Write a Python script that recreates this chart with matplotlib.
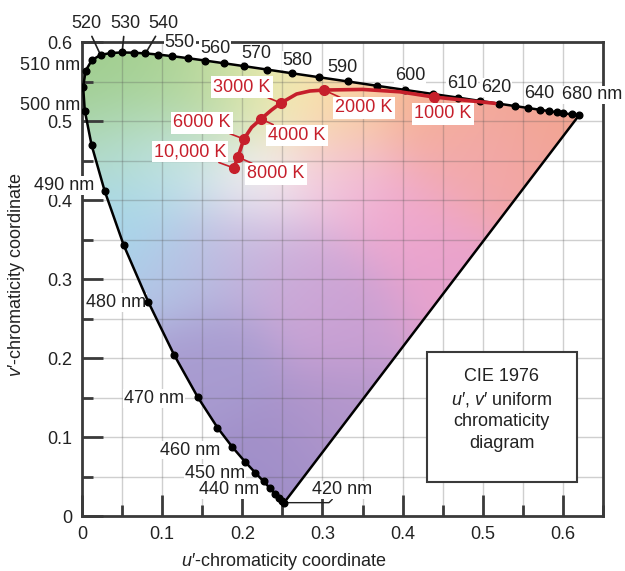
import numpy as np
import matplotlib.pyplot as plt
from matplotlib.patches import Polygon, Rectangle
from matplotlib.colors import to_rgb

plt.rcParams['font.family'] = ['Liberation Sans', 'DejaVu Sans']
plt.rcParams['mathtext.fontset'] = 'custom'
plt.rcParams['mathtext.rm'] = 'Liberation Sans'
plt.rcParams['mathtext.it'] = 'Liberation Sans:italic'
plt.rcParams['font.size'] = 13

# spectral locus (CIE 1976 u', v')
wavelengths = [420, 425, 430, 435, 440, 445, 450, 455, 460, 465, 470, 475,
               480, 485, 490, 495, 500, 505, 510, 515, 520, 525, 530, 535,
               540, 545, 550, 555, 560, 565, 570, 575, 580, 585, 590, 595,
               600, 605, 610, 615, 620, 625, 630, 635, 640, 645, 650, 660, 680]
locus_u = [0.2522, 0.2496, 0.2461, 0.2411, 0.2347, 0.2266, 0.2161, 0.2033,
           0.1877, 0.1690, 0.1441, 0.1147, 0.0828, 0.0521, 0.0282, 0.0119,
           0.0035, 0.0014, 0.0046, 0.0123, 0.0231, 0.0360, 0.0501, 0.0643,
           0.0792, 0.0953, 0.1127, 0.1319, 0.1531, 0.1766, 0.2026, 0.2312,
           0.2623, 0.2960, 0.3315, 0.3681, 0.4035, 0.4379, 0.4692, 0.4968,
           0.5203, 0.5399, 0.5565, 0.5709, 0.5830, 0.5929, 0.6005, 0.6109,
           0.6199]
locus_v = [0.0169, 0.0191, 0.0226, 0.0279, 0.0350, 0.0437, 0.0549, 0.0688,
           0.0871, 0.1119, 0.1510, 0.2044, 0.2708, 0.3427, 0.4117, 0.4698,
           0.5131, 0.5432, 0.5638, 0.5770, 0.5837, 0.5861, 0.5868, 0.5865,
           0.5856, 0.5841, 0.5821, 0.5796, 0.5766, 0.5732, 0.5694, 0.5651,
           0.5604, 0.5554, 0.5501, 0.5446, 0.5393, 0.5342, 0.5296, 0.5254,
           0.5219, 0.5190, 0.5165, 0.5143, 0.5125, 0.5111, 0.5099, 0.5084,
           0.5070]

# blackbody (Planckian) locus
planck_temps = [10000, 8000, 6000, 4000, 3000, 2000, 1000]
planck_labels = ["10,000 K", "8000 K", "6000 K", "4000 K", "3000 K", "2000 K", "1000 K"]
planck_u = [0.1895, 0.1945, 0.2020, 0.2232, 0.2481, 0.3017, 0.4389]
planck_v = [0.4405, 0.4544, 0.4772, 0.5025, 0.5228, 0.5392, 0.5304]
planck_path_u = [0.1895, 0.1945, 0.2020, 0.2116, 0.2232, 0.2365, 0.2481, 0.2677,
                 0.2843, 0.3017, 0.3500, 0.3965, 0.4389, 0.4750, 0.5150]
planck_path_v = [0.4405, 0.4544, 0.4772, 0.4920, 0.5025, 0.5140, 0.5228, 0.5342,
                 0.5380, 0.5392, 0.5400, 0.5370, 0.5304, 0.5266, 0.5224]

wl_labels = ["520", "530", "540", "550", "560", "570", "580", "590", "600",
             "610", "620", "640", "680 nm", "510 nm", "500 nm", "490 nm",
             "480 nm", "470 nm", "460 nm", "450 nm", "440 nm", "420 nm"]

# fill colours at a few chromaticities, blended smoothly
fill_anchors = [
    (0.02, 0.55, '#9fcd8c'), (0.10, 0.56, '#a8d293'), (0.16, 0.54, '#b5d69c'),
    (0.21, 0.555, '#e2e9ad'), (0.27, 0.54, '#fcf0b6'), (0.33, 0.52, '#f9c99c'),
    (0.45, 0.51, '#f5b092'), (0.58, 0.505, '#f3a68d'), (0.55, 0.45, '#f2a5a4'),
    (0.48, 0.45, '#f2a9b2'), (0.40, 0.38, '#f0a8cf'), (0.32, 0.43, '#f2c2de'),
    (0.22, 0.43, '#f7f3f6'), (0.12, 0.45, '#c6e6ec'), (0.05, 0.38, '#a5d7ec'),
    (0.04, 0.47, '#b5dcc8'), (0.12, 0.32, '#b4c5e6'), (0.20, 0.33, '#c3b3dc'),
    (0.28, 0.30, '#cfaad8'), (0.33, 0.25, '#c89fd3'), (0.17, 0.20, '#a89bd0'),
    (0.25, 0.07, '#a08fc9'), (0.32, 0.12, '#b497cc'), (0.45, 0.30, '#e8a2cd'),
]

red = '#c61f2b'
ink = '#3a3a3a'

fig = plt.figure(figsize=(6.25, 5.71), dpi=100)
ax = fig.add_axes([0.1312, 0.0963, 0.8336, 0.8301])
ax.set_xlim(0, 0.65)
ax.set_ylim(0, 0.6)

# colour fill clipped to the horseshoe
gu, gv = np.meshgrid(np.linspace(0, 0.65, 330), np.linspace(0, 0.6, 300))
acc = np.zeros(gu.shape + (3,))
wsum = np.zeros(gu.shape)
sigma = 0.05
for au, av, col in fill_anchors:
    w = np.exp(-((gu - au) ** 2 + (gv - av) ** 2) / (2 * sigma ** 2))
    acc += w[..., None] * np.array(to_rgb(col))
    wsum += w
rgb = acc / wsum[..., None]
im = ax.imshow(rgb, extent=(0, 0.65, 0, 0.6), origin='lower', aspect='auto',
               interpolation='bilinear', zorder=0)
horseshoe = Polygon(np.column_stack([locus_u, locus_v]), closed=True,
                    transform=ax.transData, fc='none', ec='none')
ax.add_patch(horseshoe)
im.set_clip_path(horseshoe)

# grid every 0.05
ax.set_xticks(np.arange(0, 0.61, 0.1))
ax.set_xticks(np.arange(0.05, 0.66, 0.1), minor=True)
ax.set_yticks(np.arange(0, 0.61, 0.1))
ax.set_yticks(np.arange(0.05, 0.6, 0.1), minor=True)
ax.set_xticklabels(["0", "0.1", "0.2", "0.3", "0.4", "0.5", "0.6"])
ax.set_yticklabels(["0", "0.1", "0.2", "0.3", "0.4", "0.5", "0.6"])
ax.grid(which='both', color='#555555', alpha=0.28, lw=1.0)
ax.tick_params(which='major', direction='in', length=15, width=2, color=ink, pad=7,
               labelsize=13, labelcolor='#222222')
ax.tick_params(which='minor', direction='in', length=8, width=2, color=ink)
for s in ax.spines.values():
    s.set_linewidth(2)
    s.set_color(ink)

# spectral locus and line of purples
ax.plot(locus_u + [locus_u[0]], locus_v + [locus_v[0]], color='black', lw=1.8, zorder=4)
ax.plot(locus_u, locus_v, 'o', color='black', ms=4.8, zorder=5)

# Planckian locus
ax.plot(planck_path_u, planck_path_v, color=red, lw=2.6, zorder=6, solid_capstyle='round')
ax.plot(planck_u, planck_v, 'o', color=red, ms=7, zorder=7)

planck_text_pos = [(0.1347, 0.461), (0.242, 0.433), (0.1496, 0.4975), (0.268, 0.482),
                   (0.1995, 0.543), (0.3516, 0.5165), (0.450, 0.509)]
for lab, pu, pv, (tx, ty) in zip(planck_labels, planck_u, planck_v, planck_text_pos):
    ax.annotate(lab, xy=(pu, pv), xytext=(tx, ty), ha='center', va='center',
                color=red, fontsize=13, zorder=8,
                bbox=dict(boxstyle='square,pad=0.12', fc='white', ec='none'),
                arrowprops=dict(arrowstyle='-', color=red, lw=1.2, shrinkA=0, shrinkB=3))

# wavelength labels
wl_text_pos = {
    "520": (0.005, 0.623), "530": (0.0536, 0.623), "540": (0.101, 0.623),
    "550": (0.122, 0.599), "560": (0.166, 0.592), "570": (0.217, 0.586),
    "580": (0.269, 0.577), "590": (0.325, 0.568), "600": (0.409, 0.557),
    "610": (0.474, 0.547), "620": (0.517, 0.542), "640": (0.571, 0.535),
    "680 nm": (0.636, 0.533), "490 nm": (-0.0224, 0.418), "480 nm": (0.0424, 0.270),
    "470 nm": (0.0898, 0.149), "460 nm": (0.1347, 0.0835), "450 nm": (0.166, 0.0544),
    "440 nm": (0.183, 0.033),
}
box = dict(boxstyle='square,pad=0.05', fc='white', ec='none')
for lab in wl_labels:
    if lab in ("510 nm", "500 nm"):
        continue
    tx, ty = wl_text_pos.get(lab, (0, 0))
    if lab in ("520", "530", "540"):
        i = wavelengths.index(int(lab))
        ax.annotate(lab, xy=(locus_u[i], locus_v[i]), xytext=(tx, ty),
                    ha='center', va='center', color='#222222', zorder=3.5,
                    arrowprops=dict(arrowstyle='-', color='#222222', lw=1.2,
                                    shrinkA=1, shrinkB=2))
    elif lab == "420 nm":
        i = wavelengths.index(420)
        ax.annotate(lab, xy=(locus_u[i], locus_v[i]), xytext=(0.324, 0.033),
                    ha='center', va='center', color='#222222', zorder=3.5, bbox=box,
                    arrowprops=dict(arrowstyle='-', color='#222222', lw=1.0,
                                    shrinkA=0, shrinkB=2,
                                    connectionstyle='angle,angleA=-135,angleB=0,rad=0'))
    else:
        ax.text(tx, ty, lab, ha='center', va='center', color='#222222',
                zorder=3.5, bbox=box)
ax.text(-0.0025, 0.570, "510 nm", ha='right', va='center', color='#222222', zorder=3.5)
ax.text(-0.0025, 0.520, "500 nm", ha='right', va='center', color='#222222', zorder=3.5)

# legend box
ax.add_patch(Rectangle((0.430, 0.043), 0.187, 0.165, fc='white', ec=ink, lw=1.5, zorder=6))
for line, ty in zip(["CIE 1976", "$\\mathit{u}$′, $\\mathit{v}$′ uniform",
                     "chromaticity", "diagram"], [0.176, 0.148, 0.120, 0.092]):
    ax.text(0.5237, ty, line, ha='center', va='center', color='#222222', zorder=7)

ax.set_xlabel("$\\mathit{u}$′-chromaticity coordinate", fontsize=13, color='#222222')
ax.xaxis.set_label_coords(0.387, -0.074)
ax.set_ylabel("$\\mathit{v}$′-chromaticity coordinate", fontsize=13, color='#222222')
ax.yaxis.set_label_coords(-0.1056, 0.51)

fig.savefig("out.png", dpi=100)
